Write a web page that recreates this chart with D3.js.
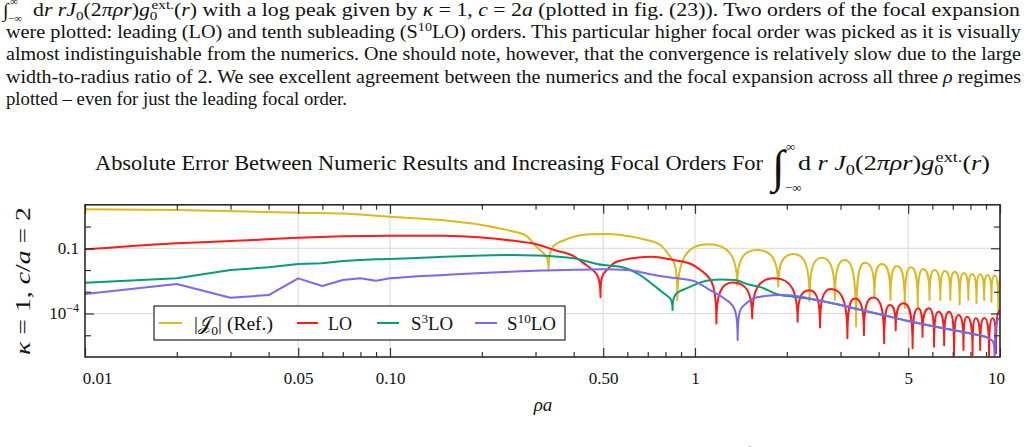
<!DOCTYPE html>
<html><head><meta charset="utf-8">
<script src="https://cdn.jsdelivr.net/npm/d3@7/dist/d3.min.js"></script>
<style>
html,body{margin:0;padding:0;background:#fff;overflow:hidden}
svg{display:block}
text{font-family:"Liberation Serif","Times New Roman",serif;fill:#111}
</style></head><body>
<svg id="chart" width="1028" height="447"></svg>
<script>
// ---------------- data ----------------
const xMajorTicks = [0.01, 0.05, 0.1, 0.5, 1, 5, 10];
const xMajorLabels = ["0.01", "0.05", "0.10", "0.50", "1", "5", "10"];
const xMinorTicks = [0.02,0.03,0.04,0.06,0.07,0.08,0.09,0.2,0.3,0.4,0.6,0.7,0.8,0.9,2,3,4,6,7,8,9];
const yMajorTicks = [0.1, 1e-4];
const yMajorLabels = [["0.1", ""], ["10", "\u22124"]];
const yMinorTicks = [1, 0.01, 1e-3, 1e-5];
const seriesNames = ["Ref", "LO", "S3LO", "S10LO"];

// [rho*a, value, flag]  flag 1 = cusp (zero crossing), flag 2 = sampled corner (straight joins)
const refPts = [
  [0.01,6.2],[0.02,5.7],[0.05,4.3],[0.07,3.95],[0.1,2.8],[0.15,1.93],[0.2,1.17],[0.25,0.62],[0.28,0.37],[0.30,0.13],
  [0.331,0.0093,1],
  [0.362,0.2],[0.40,0.34],[0.45,0.437],[0.52,0.452],[0.60,0.366],[0.68,0.258],[0.77,0.141],[0.83,0.041],
  [0.875,4.2e-4,1],[1.1,0.152],[1.375,2.0e-3,1],[1.6,0.083],[1.875,1.7e-3,1],[2.11,0.0545],[2.375,3.8e-4,1],
  [2.6,0.0368],[2.875,4.2e-4,1],[3.1,0.0288],[3.375,2.5e-5,1],[3.6,0.0217],[3.875,6.4e-4,1],[4.1,0.0189],
  [4.375,4.2e-4,1],[4.6,0.0153],[4.875,1.8e-4,1],[5.1,0.0133],[5.375,2.1e-4,1],[5.6,0.0111],[5.875,4.2e-4,1],
  [6.1,0.0100],[6.375,4.2e-4,1],[6.6,9.0e-3],[6.875,4.2e-4,1],[7.1,8.4e-3],[7.375,2.6e-4,1],[7.6,7.3e-3],
  [7.875,4.2e-4,1],[8.1,6.5e-3],[8.375,3.0e-4,1],[8.6,6.4e-3],[8.875,4.2e-4,1],[9.1,5.9e-3],[9.375,3.5e-4,1],
  [9.6,5.6e-3],[9.875,1.5e-4,1],[10,3.5e-3]
];
const loPts = [
  [0.01,0.0895],[0.02,0.169],[0.03,0.215],[0.05,0.305],[0.07,0.354],[0.1,0.378],[0.15,0.378],[0.2,0.312],
  [0.25,0.227],[0.30,0.157],[0.35,0.0788],[0.40,0.044],[0.44,0.017],
  [0.49,5.6e-4,1],
  [0.51,9.0e-3],[0.55,0.0233],[0.65,0.0376],[0.72,0.0407],[0.85,0.0288],[0.95,0.021],[1.0,0.0153],[1.06,8.4e-3],
  [1.175,3.5e-5,1],[1.33,2.66e-3],[1.54,6.0e-5,1],[1.82,4.2e-3],[2.17,4.2e-5,1],[2.37,1.17e-3],[2.57,2.3e-5,1],
  [2.79,1.35e-3],[3.16,7.2e-6,1],[3.34,4.9e-4],[3.58,1.0e-5,1],[3.84,5.5e-4],[4.17,4.3e-6,1],[4.36,2.45e-4],
  [4.55,1.7e-5,1],[4.83,2.95e-4],[5.17,2.5e-6,1],[5.39,1.74e-4],[5.57,8.5e-6,1],[5.86,1.74e-4],[6.08,3.0e-6,1],
  [6.29,1.2e-4],[6.56,3.5e-6,1],[6.81,1.2e-4],[7.07,1.2e-6,1],[7.31,8.5e-5],[7.59,2.1e-6,1],[7.79,7.1e-5],
  [8.13,1.2e-6,1],[8.33,6.0e-5],[8.61,2.1e-6,1],[8.89,6.2e-5],[9.21,9e-7,1],[9.46,6.0e-5],[9.7,1.5e-6,1],
  [10,1.45e-4]
];
const s3Pts = [
  [0.01,2.6e-3,2],[0.02,4.15e-3,2],[0.03,0.01,2],[0.04,0.0133,2],[0.05,0.0189,2],[0.06,0.0203,2],[0.07,0.026,2],
  [0.08,0.0288,2],[0.09,0.031,2],[0.1,0.032],[0.15,0.0408],[0.2,0.0465],[0.25,0.049],[0.3,0.0465],[0.4,0.0345],
  [0.5,0.017],[0.57,0.0142],[0.66,5.9e-3],[0.71,2.8e-3],[0.78,9.8e-4],
  [0.844,1.45e-4,1],
  [0.91,1.2e-3],[1.09,3.2e-3],[1.22,3.66e-3],[1.35,3.47e-3],[1.5,2.15e-3],[1.65,1.6e-3],[1.85,7.9e-4],
  [2.1,5.9e-4],[2.5,4.2e-4],[3.0,2.46e-4],[3.5,1.45e-4],[4.0,9.5e-5],[5.0,4.5e-5],[6.0,2.66e-5],[7.0,1.74e-5],
  [8.0,1.2e-5],[9.0,8.3e-6]
];
const s10Pts = [
  [0.01,7.9e-4,2],[0.02,2.27e-3,2],[0.03,5.3e-4,2],[0.04,7.1e-4,2],[0.05,4.15e-3,2],[0.06,1.84e-3,2],
  [0.07,3.47e-3,2],[0.08,4.15e-3,2],[0.09,3.22e-3,2],[0.1,4.15e-3,2],[0.12,5.0e-3],[0.15,5.9e-3],[0.2,7.3e-3],
  [0.25,8.4e-3],[0.3,9.3e-3],[0.4,0.0102],[0.5,0.0108],[0.6,0.010],[0.7,6.8e-3],[0.8,4.9e-3],[0.9,4.0e-3],
  [1.0,3.0e-3],[1.1,1.4e-3],[1.2,7.0e-4],[1.28,3.8e-4],
  [1.38,6.1e-6,1],
  [1.45,2.46e-4],[1.55,4.9e-4],[1.7,6.4e-4],[1.9,7.1e-4],[2.2,6.1e-4],[2.5,4.2e-4],[3.0,2.46e-4],
  [3.5,1.45e-4],[4.0,9.5e-5],[5.0,4.5e-5],[6.0,2.66e-5],[7.0,1.74e-5],[8.0,1.2e-5],[9.0,8.3e-6],[9.4,6e-6],
  [9.6,8e-7,1],
  [10,6.2e-5]
];

// ---------------- style ----------------
const colors = {Ref:"#dbb91f", LO:"#ff1a1a", S3LO:"#0a9b78", S10LO:"#7b68ee"};
const P = {l:85, r:1000, t:204.8, b:357};

const svg = d3.select("#chart");
const x = d3.scaleLog().domain([0.01, 10]).range([P.l, P.r]);
const y = d3.scaleLog().domain([1e-6, 10]).range([P.b, P.t]);

// ---------------- helper: rich text ----------------
function rich(sel, parts, fs) {
  let cur = 0;
  parts.forEach(p => {
    const t = typeof p === "string" ? p : p[0];
    const st = typeof p === "string" ? "" : p[1];
    let target = 0, size = fs;
    if (st.includes("sub")) { target = 0.24 * fs; size = fs * 0.7; }
    if (st.includes("sup")) { target = -0.38 * fs; size = fs * 0.7; }
    const ts = sel.append("tspan").text(t).attr("font-size", size).attr("dy", target - cur);
    if (st.includes("i")) ts.attr("font-style", "italic");
    const m = st.match(/dx(-?[\d.]+)/);
    if (m) ts.attr("dx", +m[1]);
    cur = target;
  });
  return sel;
}
function fit(sel, width) {
  return sel.attr("textLength", width).attr("lengthAdjust", "spacingAndGlyphs");
}

// ---------------- paragraph ----------------
const para = svg.append("g");
const PF = 18.5;
para.append("text").attr("x", 3).attr("y", 17).attr("font-size", 20).text("\u222B");
para.append("text").attr("x", 8).attr("y", 22).attr("font-size", 11).text("\u2212\u221E");
para.append("text").attr("x", 10).attr("y", 5).attr("font-size", 11).text("\u221E");
fit(rich(para.append("text").attr("x", 33).attr("y", 16).attr("font-size", PF), [
  "d", ["r", "i"], " ", ["rJ", "i"], ["0", "sub"], "(2", ["\u03C0\u03C1r", "i"], ")", ["g", "i"], ["0", "sub"],
  ["ext.", "sup dx-5"], "(", ["r", "i"], ") with a log peak given by ", ["\u03BA", "i"], " = 1, ", ["c", "i"], " = 2",
  ["a", "i"], " (plotted in fig. (23)). Two orders of the focal expansion"], PF), 987);
fit(rich(para.append("text").attr("x", 6).attr("y", 38).attr("font-size", PF), [
  "were plotted: leading (LO) and tenth subleading (S", ["10", "sup"], "LO) orders. This particular higher focal order was picked as it is visually"], PF), 1015);
fit(rich(para.append("text").attr("x", 6).attr("y", 60.3).attr("font-size", PF), [
  "almost indistinguishable from the numerics. One should note, however, that the convergence is relatively slow due to the large"], PF), 1015);
fit(rich(para.append("text").attr("x", 6).attr("y", 82.6).attr("font-size", PF), [
  "width-to-radius ratio of 2. We see excellent agreement between the numerics and the focal expansion across all three ",
  ["\u03C1", "i"], " regimes"], PF), 1015);
fit(rich(para.append("text").attr("x", 6).attr("y", 104.8).attr("font-size", PF), [
  "plotted \u2013 even for just the leading focal order."], PF), 341);

// ---------------- title ----------------
const TF = 20;
fit(svg.append("text").attr("x", 95).attr("y", 170).attr("font-size", TF)
  .text("Absolute Error Between Numeric Results and Increasing Focal Orders For"), 668);
svg.append("text").attr("x", 772).attr("y", 182).attr("font-size", 46).text("\u222B");
svg.append("text").attr("x", 786).attr("y", 151).attr("font-size", 13).text("\u221E");
svg.append("text").attr("x", 785).attr("y", 192).attr("font-size", 13).text("\u2212\u221E");
fit(rich(svg.append("text").attr("x", 798).attr("y", 170).attr("font-size", TF), [
  "d ", ["r", "i"], " ", ["J", "i"], ["0", "sub"], "(2", ["\u03C0\u03C1r", "i"], ")", ["g", "i"], ["0", "sub"],
  ["ext.", "sup dx-6"], "(", ["r", "i"], ")"], TF), 192);

// ---------------- grid ----------------
const grid = svg.append("g").attr("stroke", "#d8d8d8").attr("stroke-width", 1);
grid.selectAll("line.gx").data(xMajorTicks.slice(1, -1)).join("line")
  .attr("x1", d => x(d)).attr("x2", d => x(d)).attr("y1", P.t).attr("y2", P.b);
grid.selectAll("line.gy").data(yMajorTicks).join("line")
  .attr("y1", d => y(d)).attr("y2", d => y(d)).attr("x1", P.l).attr("x2", P.r);

// ---------------- series ----------------
svg.append("clipPath").attr("id", "clip").append("rect")
  .attr("x", P.l).attr("y", P.t).attr("width", P.r - P.l).attr("height", P.b - P.t);

function cuspPath(pts, k) {
  const Q = pts.map(d => ({x: x(d[0]), y: y(d[1]), dip: d[2] === 1, corner: d[2] === 2}));
  const n = Q.length, m = new Array(n).fill(0);
  for (let i = 0; i < n; i++) {
    if (Q[i].dip) continue;
    const pr = i > 0 ? Q[i - 1] : null, nx = i < n - 1 ? Q[i + 1] : null;
    const sp = pr ? (Q[i].y - pr.y) / (Q[i].x - pr.x) : null;
    const sn = nx ? (nx.y - Q[i].y) / (nx.x - Q[i].x) : null;
    const pd = pr && pr.dip, nd = nx && nx.dip;
    if (pd && nd) m[i] = 0;
    else if (pd || nd) {
      const other = pd ? nx : pr;
      if (!other || other.y > Q[i].y) m[i] = 0;
      else m[i] = pd ? sn : sp;
    } else if (pr && nx) {
      const h0 = Q[i].x - pr.x, h1 = nx.x - Q[i].x;
      const p = (sp * h1 + sn * h0) / (h0 + h1);
      m[i] = (Math.sign(sp) + Math.sign(sn)) * Math.min(Math.abs(sp), Math.abs(sn), 0.5 * Math.abs(p)) || 0;
    } else m[i] = pr ? sp : sn;
  }
  const path = d3.path();
  path.moveTo(Q[0].x, Q[0].y);
  for (let i = 0; i < n - 1; i++) {
    const a = Q[i], b = Q[i + 1], h = b.x - a.x;
    if (a.corner && (b.corner || !b.dip)) {
      if (b.corner) { path.lineTo(b.x, b.y); continue; }
    }
    let c1x, c1y, c2x, c2y;
    if (a.dip) { c1x = a.x; c1y = a.y + k * (b.y - a.y); }
    else if (a.corner) { c1x = a.x + h / 3; c1y = a.y + (b.y - a.y) / 3; }
    else { const e = b.dip ? k * h : h / 3; c1x = a.x + e; c1y = a.y + m[i] * e; }
    if (b.dip) { c2x = b.x; c2y = b.y + k * (a.y - b.y); }
    else if (b.corner) { c2x = b.x - h / 3; c2y = b.y - (b.y - a.y) / 3; }
    else { const e = a.dip ? k * h : h / 3; c2x = b.x - e; c2y = b.y - m[i + 1] * e; }
    path.bezierCurveTo(c1x, c1y, c2x, c2y, b.x, b.y);
  }
  return path.toString();
}

const seriesData = {Ref: refPts, LO: loPts, S3LO: s3Pts, S10LO: s10Pts};
const lines = svg.append("g").attr("clip-path", "url(#clip)");
seriesNames.forEach(name => {
  lines.append("path").attr("d", cuspPath(seriesData[name], 0.72))
    .attr("fill", "none").attr("stroke", colors[name]).attr("stroke-width", 2)
    .attr("stroke-linejoin", "round");
});

// ---------------- frame & axes ----------------
function styleAxis(g) {
  g.select(".domain").remove();
  g.selectAll("line").attr("stroke", "#333").attr("stroke-width", 1.2);
  g.selectAll("text").attr("font-family", "Liberation Serif").attr("font-size", 17).attr("fill", "#111");
}
const xb = svg.append("g").attr("transform", `translate(0,${P.b})`)
  .call(d3.axisBottom(x).tickValues(xMajorTicks).tickSize(-9).tickPadding(15).tickFormat((d, i) => xMajorLabels[i]))
  .call(styleAxis);
xb.selectAll(".tick text").filter((d, i) => i === 0).attr("dx", 12);
xb.selectAll(".tick text").filter((d, i) => i === xMajorTicks.length - 1).attr("dx", -4);
svg.append("g").attr("transform", `translate(0,${P.b})`)
  .call(d3.axisBottom(x).tickValues(xMinorTicks).tickSize(-5).tickFormat("")).call(styleAxis);
svg.append("g").attr("transform", `translate(0,${P.t})`)
  .call(d3.axisTop(x).tickValues(xMajorTicks).tickSize(-9).tickFormat("")).call(styleAxis);
svg.append("g").attr("transform", `translate(0,${P.t})`)
  .call(d3.axisTop(x).tickValues(xMinorTicks).tickSize(-5).tickFormat("")).call(styleAxis);

const yl = svg.append("g").attr("transform", `translate(${P.l},0)`)
  .call(d3.axisLeft(y).tickValues(yMajorTicks).tickSize(-9).tickPadding(6).tickFormat("")).call(styleAxis);
yl.selectAll(".tick text").each(function(d, i) {
  const t = d3.select(this);
  t.append("tspan").text(yMajorLabels[i][0]);
  if (yMajorLabels[i][1]) t.append("tspan").attr("font-size", 12).attr("dy", -7).text(yMajorLabels[i][1]);
});
svg.append("g").attr("transform", `translate(${P.l},0)`)
  .call(d3.axisLeft(y).tickValues(yMinorTicks).tickSize(-6).tickFormat("")).call(styleAxis);
svg.append("g").attr("transform", `translate(${P.r},0)`)
  .call(d3.axisRight(y).tickValues(yMajorTicks).tickSize(-9).tickFormat("")).call(styleAxis);
svg.append("g").attr("transform", `translate(${P.r},0)`)
  .call(d3.axisRight(y).tickValues(yMinorTicks).tickSize(-6).tickFormat("")).call(styleAxis);

svg.append("rect").attr("x", P.l).attr("y", P.t).attr("width", P.r - P.l).attr("height", P.b - P.t)
  .attr("fill", "none").attr("stroke", "#2a2a2a").attr("stroke-width", 1.6);

// axis labels
rich(svg.append("text").attr("x", 543).attr("y", 411).attr("text-anchor", "middle").attr("font-size", 19),
  [["\u03C1a", "i"]], 19);
fit(rich(svg.append("text").attr("transform", "translate(30,281) rotate(-90)").attr("text-anchor", "middle")
  .attr("font-size", 20), [["\u03BA", "i"], " = 1,  ", ["c", "i"], "/", ["a", "i"], " = 2"], 20), 148);

// ---------------- legend ----------------
const lg = svg.append("g");
lg.append("rect").attr("x", 154).attr("y", 306).attr("width", 411).attr("height", 34)
  .attr("fill", "#fff").attr("stroke", "#111").attr("stroke-width", 1.1);
const legendItems = [
  {name: "Ref", x0: 159, x1: 182, tx: 194, w: 79, parts: ["|", ["\uD835\uDCA5", ""], ["0", "sub"], "| (Ref.)"]},
  {name: "LO", x0: 297, x1: 318, tx: 328, w: 24, parts: ["LO"]},
  {name: "S3LO", x0: 377, x1: 399, tx: 411, w: 42, parts: ["S", ["3", "sup"], "LO"]},
  {name: "S10LO", x0: 475, x1: 497, tx: 507, w: 49, parts: ["S", ["10", "sup"], "LO"]}
];
legendItems.forEach(it => {
  lg.append("line").attr("x1", it.x0).attr("x2", it.x1).attr("y1", 323).attr("y2", 323)
    .attr("stroke", colors[it.name]).attr("stroke-width", 2);
  fit(rich(lg.append("text").attr("x", it.tx).attr("y", 330).attr("font-size", 19), it.parts, 19), it.w);
});

// cut-off caption line at the bottom
svg.append("text").attr("x", 593).attr("y", 453).attr("font-size", 12).text("\u221E");
svg.append("text").attr("x", 738).attr("y", 452).attr("font-size", 11).text("ext.");
</script>
</body></html>
